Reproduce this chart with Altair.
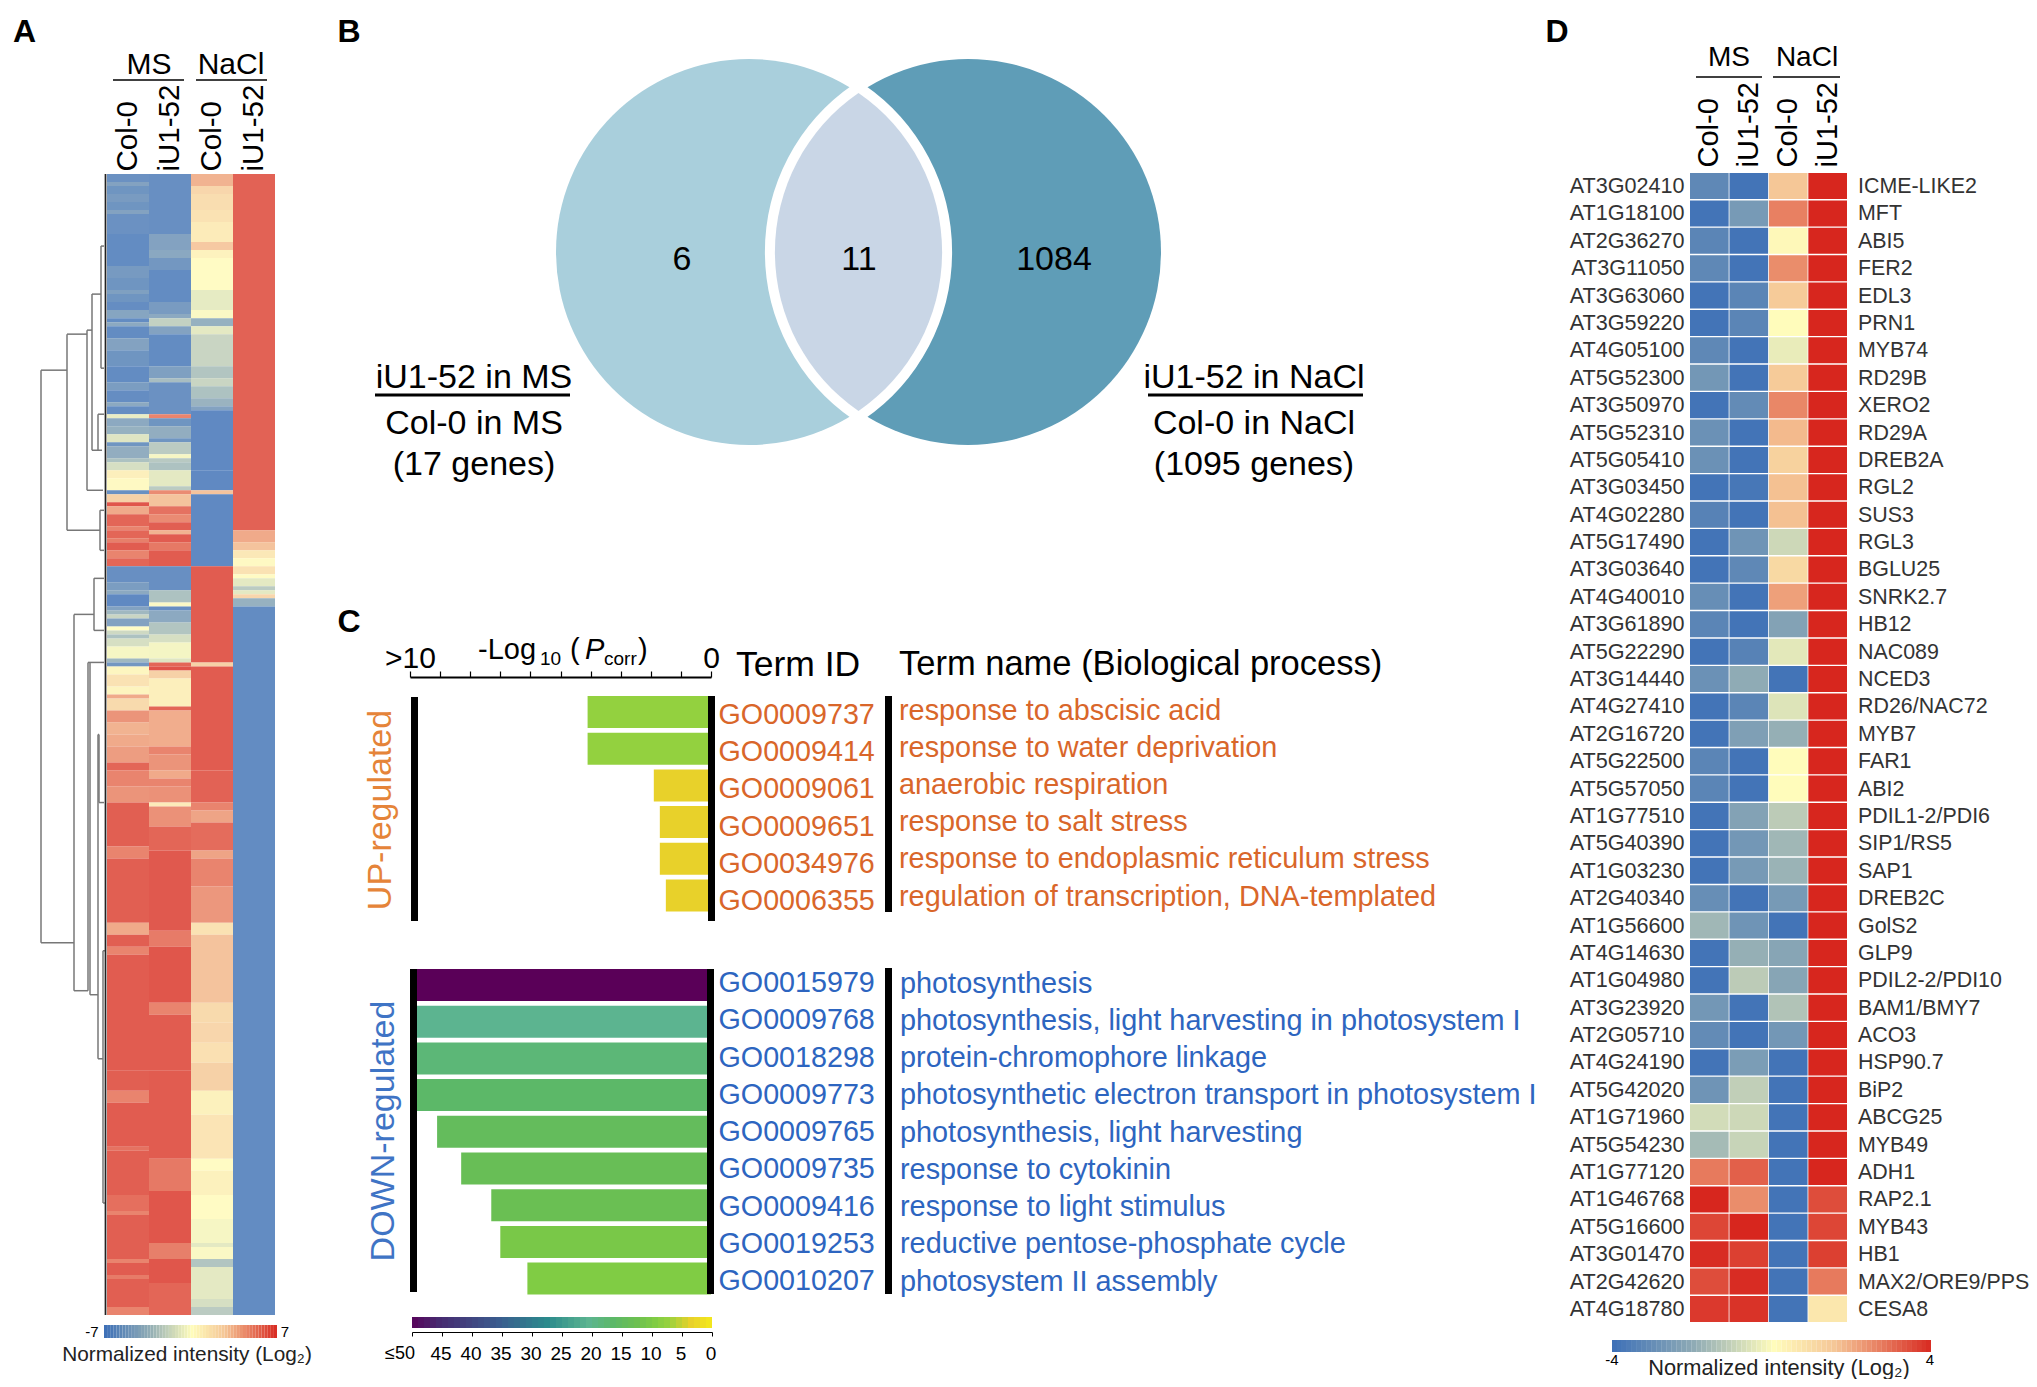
import altair as alt
import pandas as pd

F = "Liberation Sans"
W, H, M = 2021, 1371, 8

# ---------- Panel A: expression heat map (row ends and values, per column) ----------
samples = ["MS Col-0", "MS iU1-52", "NaCl Col-0", "NaCl iU1-52"]
N_ROWS = 285
a1_end = [2,3,5,7,9,10,15,23,26,29,30,32,34,36,37,38,41,44,48,52,54,57,58,60,61,63,65,67,68,71,72,74,
          76,79,80,82,83,85,88,89,91,92,94,96,98,102,104,105,108,109,110,111,113,114,115,116,118,121,122,123,125,128,130,131,134,137,140,143,147,149,
          153,157,168,171,187,190,193,195,224,229,232,243,244,255,259,260,271,272,275,276,283,285]
a1_val = [-6.2,-5,-6,-5.5,-6,-5,-6.2,-6.6,-5.6,-6,-5.2,-6,-6.5,-4.8,-6.6,-4.5,-6.6,-5,-6,-6.6,-5.4,-6.5,-4.5,-6.5,-0.8,-4.5,-4,-1.2,-6,-4.2,-3,-1.5,
          0.8,0.2,-6.3,2.5,6.5,3.8,6,5,6,5.2,6.3,5,6,-6.4,-5.4,-4.5,-6.8,-5,-3.5,-2,-5,0,-1.8,-3,-1.5,-0.3,-3.5,-5.8,0.4,1.5,0.5,3.8,2,4.5,3.5,3.8,4.2,6,
          5,4.5,6.2,5,6.2,3.8,6.2,5,6.3,6.2,5,6.3,5.6,6.2,5.7,5,6.2,5,6.3,5.3,6.2,5]
a2_end = [15,19,21,24,32,35,36,38,40,48,51,52,60,61,63,66,67,70,71,72,74,
          78,79,80,83,85,87,89,90,92,94,98,104,107,108,109,112,115,117,121,122,123,124,126,133,134,143,145,149,
          151,153,157,158,163,169,189,193,207,210,224,246,254,267,271,277,285]
a2_val = [-6.4,-5,-4.6,-5.8,-6.6,-5.5,-4.5,-2.2,-5,-6.6,-5.2,-3.2,-6.2,5,-6,-4.2,-6,-2.5,-0.3,-2.6,-3,
          -1,-2.5,4.8,3,5.6,4.8,6.2,3.5,6.3,5.4,6.3,-6.4,-3,-0.2,-6.5,-4.5,-2.8,-1.5,-0.4,-1.2,6,6.6,2.5,0.8,6,3.7,5,4.5,
          3.8,5,4.6,1,4.6,6,6.4,5.3,6.5,5,6.3,6.3,5.4,6.5,5.2,6.5,6]
a3_end = [3,5,9,12,17,19,21,29,34,36,38,40,48,51,53,56,58,59,74,79,80,98,122,123,149,
          157,159,162,169,171,178,187,190,207,212,217,222,229,235,246,249,255,261,267,268,271,273,281,283,285]
a3_val = [3.5,2.2,1.8,1.5,1,2.8,0.6,0.1,-0.9,-0.2,-4,-1,-2,-2.8,-2,-3,-3.8,-5,-6.8,-6.8,3,-6.8,6.3,2.5,6.3,
          6.1,5,4,5.8,4,5,4.4,1.5,3,2,2.2,1.6,2.5,0.7,1.4,0.1,0.7,0.1,-0.3,-1,-0.2,-2.8,-1,-1.5,-2.5]
a4_end = [89,92,94,96,98,100,101,103,104,105,106,108,285]
a4_val = [6.1,3.8,3,1.2,0.2,1.5,0.1,-1,-2.5,-1,2.2,-4,-6.6]

# dendrogram of panel A: distance from the leaves and row numbers
dv_d  = [66,40,20,15,6,9,7,33,13,19,17,9,8,4,1.5]
dv_r0 = [49,40,39,30,18,60,84,110,101,122,122,140,140,194,0]
dv_r1 = [192,89,79,69,48.5,69,94,204,114,204,205,221,157,257,285]
dh_r  = [49,192,40,89,39,30,69,79,18,48.5,60,84,94,110,204,101,114,122,205,140,157,221,194,257]
dh_d0 = [66,66,40,40,20,15,15,20,6,6,9,7,7,33,33,13,13,19,17,9,8,9,4,4]
dh_d1 = [40,33,20,7,15,6,5,4,3,3,3,3,3,13,19,3,3,3,9,8,3,4,2,2]

# ---------- Panel B: Venn ----------
venn_r = 193
venn_cx = [0, 219]
venn_lens_x = 109.5
venn_colors = ["#a9cfdc", "#5f9db7"]
venn_counts = ["6", "11", "1084"]
venn_count_x = [-67, 110, 305]

# ---------- Panel C: GO terms ----------
up_go = ["GO0009737","GO0009414","GO0009061","GO0009651","GO0034976","GO0006355"]
up_term = ["response to abscisic acid","response to water deprivation","anaerobic respiration",
           "response to salt stress","response to endoplasmic reticulum stress","regulation of transcription, DNA-templated"]
up_len = [4.1,4.1,1.9,1.7,1.7,1.5]
up_col = [7,7,3,3,3,3]
dn_go = ["GO0015979","GO0009768","GO0018298","GO0009773","GO0009765","GO0009735","GO0009416","GO0019253","GO0010207"]
dn_term = ["photosynthesis","photosynthesis, light harvesting in photosystem I","protein-chromophore linkage",
           "photosynthetic electron transport in photosystem I","photosynthesis, light harvesting","response to cytokinin",
           "response to light stimulus","reductive pentose-phosphate cycle","photosystem II assembly"]
dn_len = [10,10,10,10,9.1,8.3,7.3,7.0,6.1]
dn_col = [50,20,17.5,16,14,13,12.5,10,9]
go_stops = [50,45,35,27,20,16,12,9,7,3,0]
go_colors = ["#5a0058","#472a70","#3a5c8e","#2b8a8c","#5cb490","#5cb868","#6cc050","#80cc44","#93d13f","#e8d12a","#f2e61e"]
go_ramp = list(range(0, 50))
go_ticks = [45,40,35,30,25,20,15,10,5,0]

# ---------- Panel D ----------
d_id = ["AT3G02410","AT1G18100","AT2G36270","AT3G11050","AT3G63060","AT3G59220","AT4G05100","AT5G52300","AT3G50970","AT5G52310",
        "AT5G05410","AT3G03450","AT4G02280","AT5G17490","AT3G03640","AT4G40010","AT3G61890","AT5G22290","AT3G14440","AT4G27410",
        "AT2G16720","AT5G22500","AT5G57050","AT1G77510","AT5G40390","AT1G03230","AT2G40340","AT1G56600","AT4G14630","AT1G04980",
        "AT3G23920","AT2G05710","AT4G24190","AT5G42020","AT1G71960","AT5G54230","AT1G77120","AT1G46768","AT5G16600","AT3G01470",
        "AT2G42620","AT4G18780"]
d_name = ["ICME-LIKE2","MFT","ABI5","FER2","EDL3","PRN1","MYB74","RD29B","XERO2","RD29A","DREB2A","RGL2","SUS3","RGL3","BGLU25",
          "SNRK2.7","HB12","NAC089","NCED3","RD26/NAC72","MYB7","FAR1","ABI2","PDIL1-2/PDI6","SIP1/RS5","SAP1","DREB2C","GolS2","GLP9",
          "PDIL2-2/PDI10","BAM1/BMY7","ACO3","HSP90.7","BiP2","ABCG25","MYB49","ADH1","RAP2.1","MYB43","HB1","MAX2/ORE9/PPS","CESA8"]
d_ms_col = [-3.2,-3.9,-3.3,-3.2,-3.9,-3.9,-3.2,-2.7,-3.9,-2.9,-2.9,-3.9,-3.4,-3.9,-3.9,-3.0,-3.3,-3.9,-2.9,-3.9,-3.9,-3.3,-3.3,-3.9,-3.9,-3.9,-3.0,-1.7,-3.9,-3.9,-2.7,-3.1,-3.9,-2.8,-0.8,-1.6,2.7,4,3.5,3.9,3.4,3.7]
d_ms_iu  = [-3.9,-2.6,-3.9,-3.9,-3.3,-3.3,-3.9,-3.9,-3.1,-3.9,-3.9,-3.8,-3.9,-2.8,-3.2,-3.9,-3.9,-3.4,-2.0,-3.3,-2.4,-3.9,-3.9,-2.3,-2.7,-2.6,-3.9,-2.8,-1.9,-1.2,-3.9,-3.9,-2.5,-1.1,-0.9,-1.0,3.1,2.4,4,3.6,3.9,3.8]
d_na_col = [1.5,2.6,0.1,2.4,1.4,0,-0.4,1.4,2.5,1.7,1.2,1.6,1.6,-0.9,1.0,2.1,-2.3,-0.5,-3.9,-0.6,-1.9,0,0,-1.2,-1.7,-1.8,-2.6,-3.9,-2.2,-2.2,-1.4,-2.7,-3.9,-3.9,-3.9,-3.9,-3.9,-3.9,-3.9,-3.9,-3.9,-3.9]
d_na_iu  = [4]*37 + [3.4,3.5,3.6,2.7,0.6]
ramp_a = [v/4 for v in range(-28, 28)]
ramp_d = [v/8 for v in range(-32, 32)]

HEAT_COLORS = ["#3f71b7", "#8fabb5", "#fffcbb", "#f5c797", "#d7261e"]


def txt(text, x, y, size, color="black", align="center", angle=0, **kw):
    return alt.Chart(pd.DataFrame({"t": [text]})).mark_text(
        font=F, fontSize=size, color=color, align=align, baseline="middle", angle=angle, **kw
    ).encode(x=alt.value(x - M), y=alt.value(y - M), text="t:N")


def hline(x0, x1, y, w=1.5, color="black"):
    return alt.Chart(pd.DataFrame({"a": [0]})).mark_rule(color=color, strokeWidth=w).encode(
        x=alt.value(x0 - M), x2=alt.value(x1 - M), y=alt.value(y - M))


def vline(x, y0, y1, w=7, color="black"):
    return alt.Chart(pd.DataFrame({"a": [0]})).mark_rule(color=color, strokeWidth=w).encode(
        x=alt.value(x - M), y=alt.value(y0 - M), y2=alt.value(y1 - M))


layers = []

# ===== Panel A =====
a_scale = alt.Scale(domain=[-7, -3.5, 0, 2.6, 7], range=HEAT_COLORS, interpolate="rgb")
rows = []
for s, ends, vals in zip(samples, [a1_end, a2_end, a3_end, a4_end], [a1_val, a2_val, a3_val, a4_val]):
    start = 0
    for e, v in zip(ends, vals):
        rows.append({"sample": s, "r0": start, "r1": e, "v": v})
        start = e
heat_a = alt.Chart(pd.DataFrame(rows)).mark_rect(opacity=0.85).encode(
    x=alt.X("sample:N", sort=samples,
            scale=alt.Scale(domain=samples, range=[107 - M, 275 - M], paddingInner=0, paddingOuter=0),
            axis=alt.Axis(orient="top", offset=-(170 + 5 - M), title=None, domain=False, ticks=False, labelPadding=4,
                          labelAngle=270, labelFont=F, labelFontSize=29.5, labelColor="black",
                          labelExpr="split(datum.label,' ')[1]")),
    y=alt.Y("r0:Q", scale=alt.Scale(domain=[0, N_ROWS], range=[174 - M, 1315 - M], nice=False, zero=False), axis=None),
    y2="r1:Q",
    color=alt.Color("v:Q", scale=a_scale, legend=None),
)
layers.append(heat_a)

dend_x = alt.Scale(domain=[66, 0], range=[41 - M, 107 - M], nice=False, zero=False)
dend_y = alt.Scale(domain=[0, N_ROWS], range=[174 - M, 1315 - M], nice=False, zero=False)
dend_v = alt.Chart(pd.DataFrame({"d": dv_d, "r0": dv_r0, "r1": dv_r1})).mark_rule(color="#777777", strokeWidth=1.5).encode(
    x=alt.X("d:Q", scale=dend_x, axis=None), y=alt.Y("r0:Q", scale=dend_y, axis=None), y2="r1:Q")
dend_h = alt.Chart(pd.DataFrame({"r": dh_r, "d0": dh_d0, "d1": dh_d1})).mark_rule(color="#777777", strokeWidth=1.5).encode(
    y=alt.Y("r:Q", scale=dend_y, axis=None), x=alt.X("d0:Q", scale=dend_x, axis=None), x2="d1:Q")
layers.append(alt.layer(dend_v, dend_h))
layers.append(vline(105.5, 174, 1315, 1.5, "#222222"))

strip_a = alt.Chart(pd.DataFrame({"s": ramp_a, "e": [v + 0.25 for v in ramp_a]})).mark_rect().encode(
    x=alt.X("s:Q", scale=alt.Scale(domain=[-7, 7], range=[104 - M, 277 - M], nice=False, zero=False), axis=None),
    x2="e:Q", y=alt.value(1325 - M), y2=alt.value(1338 - M),
    color=alt.Color("s:Q", scale=a_scale, legend=None))
layers.append(strip_a)
layers += [txt("-7", 92, 1332, 15), txt("7", 285, 1332, 15),
           txt("Normalized intensity (Log\u2082)", 187, 1355, 20.8, "#222222"),
           txt("MS", 149, 65, 30), txt("NaCl", 231, 65, 30), hline(113, 184, 80), hline(196, 267, 80),
           txt("A", 24.5, 32, 32, fontWeight="bold")]

# ===== Panel B =====
venn_x = alt.Scale(domain=[-193, 412], range=[556 - M, 1161 - M], nice=False, zero=False)
venn = alt.Chart(pd.DataFrame({"cx": venn_cx, "c": venn_colors})).mark_circle(
    size=(2 * venn_r) ** 2, opacity=1).encode(
    x=alt.X("cx:Q", scale=venn_x, axis=None), y=alt.value(252 - M), color=alt.Color("c:N", scale=None, legend=None))
LENS = "M0,-159 A193,193 0 0 1 0,159 A193,193 0 0 1 0,-159 Z"
lens_df = pd.DataFrame({"cx": [venn_lens_x]})
lens_ring = alt.Chart(lens_df).mark_point(shape=LENS, size=4, filled=True, opacity=1, fill="white", stroke="white",
                                          strokeWidth=20, strokeJoin="round").encode(
    x=alt.X("cx:Q", scale=venn_x, axis=None), y=alt.value(252 - M))
lens_fill = alt.Chart(lens_df).mark_point(shape=LENS, size=4, filled=True, opacity=1, fill="#c9d6e6").encode(
    x=alt.X("cx:Q", scale=venn_x, axis=None), y=alt.value(252 - M))
counts = alt.Chart(pd.DataFrame({"t": venn_counts, "cx": venn_count_x})).mark_text(
    font=F, fontSize=34, color="black", baseline="middle").encode(
    x=alt.X("cx:Q", scale=venn_x, axis=None), y=alt.value(260 - M), text="t:N")
layers.append(alt.layer(venn, lens_ring, lens_fill, counts))
layers += [txt("iU1-52 in MS", 474, 378, 34), hline(375, 570, 395, 3), txt("Col-0 in MS", 474, 424, 34), txt("(17 genes)", 474, 465, 34),
           txt("iU1-52 in NaCl", 1254, 378, 34), hline(1148, 1363, 395, 3), txt("Col-0 in NaCl", 1254, 424, 34), txt("(1095 genes)", 1254, 465, 34),
           txt("B", 349, 32, 32, fontWeight="bold")]

# ===== Panel C =====
go_scale = alt.Scale(domain=go_stops, range=go_colors, interpolate="rgb")
bar_x = alt.Scale(domain=[10, 0], range=[410 - M, 711 - M], nice=False, zero=False)
ORANGE, BLUE = "#d9662a", "#2d65c0"


def bars(go, term, ln, col, y0, y1, color, top_axis, text_c0, text_c1, go_off, term_x):
    df = pd.DataFrame({"go": go, "term": term, "len": ln, "col": col})
    ys = alt.Scale(domain=go, range=[y0 - M, y1 - M], paddingInner=0.128, paddingOuter=0)
    xaxis = None
    if top_axis:
        xaxis = alt.Axis(orient="top", offset=-(677 - M), title=None, values=list(range(0, 11)), grid=False,
                         domainColor="black", domainWidth=2, tickColor="black", tickSize=6, tickWidth=1.2, labelPadding=-2,
                         labelFont=F, labelFontSize=30, labelColor="black", labelFlush=False, labelOverlap=False,
                         labelExpr="datum.value==10?'>10':(datum.value==0?'0':'')")
    b = alt.Chart(df).mark_bar().encode(
        x=alt.X("len:Q", scale=bar_x, axis=xaxis),
        y=alt.Y("go:N", sort=go, scale=ys, axis=None),
        color=alt.Color("col:Q", scale=go_scale, legend=None))
    pitch = (text_c1 - text_c0) / (len(go) - 1)
    ts = alt.Scale(domain=go, range=[text_c0 - pitch / 2 - M, text_c1 + pitch / 2 - M], paddingInner=0, paddingOuter=0)
    yaxis = alt.Axis(orient="right", offset=714 - M - W, title=None, domain=False, ticks=False, labelPadding=4,
                     labelOffset=go_off, labelFont=F, labelFontSize=28.7, labelColor=color, labelLimit=300)
    t = alt.Chart(df).mark_text(font=F, fontSize=28.85, color=color, align="left", baseline="middle").encode(
        x=alt.value(term_x - M), y=alt.Y("go:N", sort=go, scale=ts, axis=yaxis), text="term:N")
    return [b, t]


layers += bars(up_go, up_term, up_len, up_col, 696, 911.5, ORANGE, True, 710.5, 896.5, 4, 899)
layers += bars(dn_go, dn_term, dn_len, dn_col, 969, 1294.6, BLUE, False, 983.5, 1281.5, -1, 900)
layers += [vline(414.5, 697, 921), vline(711.5, 696, 921), vline(888.5, 696, 912),
           vline(413.5, 969, 1292), vline(710.5, 969, 1294), vline(888.5, 968, 1294)]
strip_c = alt.Chart(pd.DataFrame({"s": go_ramp, "e": [v + 1 for v in go_ramp]})).mark_rect().encode(
    x=alt.X("s:Q", scale=alt.Scale(domain=[50, 0], range=[412 - M, 712 - M], nice=False, zero=False),
            axis=alt.Axis(orient="bottom", offset=1332 - M - H, title=None, values=go_ticks + [50], grid=False,
                          domainColor="black", tickColor="black", tickSize=4, labelPadding=8, labelFont=F, labelFontSize=19,
                          labelOffset=-1.5, labelColor="black", labelFlush=False, labelOverlap=False,
                          labelExpr="datum.value==50?'':datum.value")),
    x2="e:Q", y=alt.value(1317 - M), y2=alt.value(1328 - M),
    color=alt.Color("s:Q", scale=go_scale, legend=None))
layers.append(strip_c)
layers += [txt("\u226450", 400, 1354, 18),
           txt("-Log", 478, 650, 29, align="left"), txt("10", 540, 659, 19, align="left"), txt("(", 570, 650, 29, align="left"),
           txt("P", 585, 650, 29, align="left", fontStyle="italic"), txt("corr", 604, 659, 19, align="left"), txt(")", 638, 650, 29, align="left"),
           txt("Term ID", 736, 665, 35.5, align="left"), txt("Term name (Biological process)", 899, 665, 34.5, align="left"),
           txt("UP-regulated", 381, 810, 34, "#e58439", angle=270), txt("DOWN-regulated", 384, 1131, 34, "#3f74c5", angle=270),
           txt("C", 349, 622, 32, fontWeight="bold")]

# ===== Panel D =====
d_scale = alt.Scale(domain=[-4, -2, 0, 1.5, 4], range=HEAT_COLORS, interpolate="rgb")
rows = []
for i, g in enumerate(d_id):
    for s, arr in zip(samples, [d_ms_col, d_ms_iu, d_na_col, d_na_iu]):
        rows.append({"id": g, "name": d_name[i], "sample": s, "v": arr[i]})
d_df = pd.DataFrame(rows)
d_y = alt.Scale(domain=d_id, range=[173 - M, 1322 - M], paddingInner=0.05, paddingOuter=0)
d_yaxis = alt.Axis(orient="left", offset=-(1684 - M), title=None, domain=False, ticks=False, labelPadding=0, labelOffset=1,
                   labelFont=F, labelFontSize=21.6, labelColor="#333333", labelLimit=200)
heat_d = alt.Chart(d_df).mark_rect().encode(
    x=alt.X("sample:N", sort=samples,
            scale=alt.Scale(domain=samples, range=[1690 - M, 1847 - M], paddingInner=0.02, paddingOuter=0),
            axis=alt.Axis(orient="top", offset=-(166 + 5 - M), title=None, domain=False, ticks=False, labelPadding=4,
                          labelAngle=270, labelFont=F, labelFontSize=29, labelColor="black",
                          labelExpr="split(datum.label,' ')[1]")),
    y=alt.Y("id:N", sort=d_id, scale=d_y, axis=d_yaxis),
    color=alt.Color("v:Q", scale=d_scale, legend=None))
names_d = alt.Chart(d_df[d_df["sample"] == samples[0]]).mark_text(
    font=F, fontSize=21.4, color="#333333", align="left", baseline="middle", dy=1).encode(
    x=alt.value(1858 - M), y=alt.Y("id:N", sort=d_id, scale=d_y, axis=d_yaxis), text="name:N")
layers.append(alt.layer(heat_d, names_d))
strip_d = alt.Chart(pd.DataFrame({"s": ramp_d, "e": [v + 0.125 for v in ramp_d]})).mark_rect().encode(
    x=alt.X("s:Q", scale=alt.Scale(domain=[-4, 4], range=[1612 - M, 1931 - M], nice=False, zero=False), axis=None),
    x2="e:Q", y=alt.value(1340 - M), y2=alt.value(1352 - M),
    color=alt.Color("s:Q", scale=d_scale, legend=None))
layers.append(strip_d)
layers += [txt("-4", 1612, 1360, 15), txt("4", 1930, 1360, 15),
           txt("Normalized intensity (Log\u2082)", 1779, 1368, 21.8, "#222222"),
           txt("MS", 1729, 58, 28), txt("NaCl", 1807, 58, 28), hline(1696, 1762, 77), hline(1773, 1840, 77),
           txt("D", 1557, 32, 32, fontWeight="bold")]

chart = alt.layer(*layers).resolve_scale(x="independent", y="independent", color="independent").properties(
    width=W, height=H, padding=0, autosize=alt.AutoSizeParams(type="none"), background="white"
).configure_view(stroke=None)

chart.save("out.html", embed_options={"renderer": "svg", "actions": False})
